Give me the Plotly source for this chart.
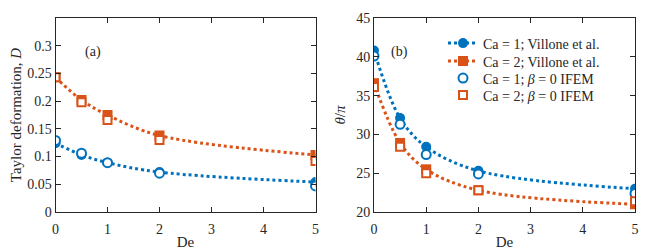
import plotly.graph_objects as go

de = [0, 0.5, 1, 2, 5]

# Panel (a): Taylor deformation D
d_ca1_villone = [0.124, 0.103, 0.089, 0.072, 0.054]
d_ca2_villone = [0.243, 0.202, 0.175, 0.138, 0.103]
d_ca1_ifem = [0.129, 0.106, 0.089, 0.070, 0.047]
d_ca2_ifem = [0.243, 0.198, 0.166, 0.130, 0.092]

# Panel (b): theta / pi
t_ca1_villone = [40.8, 32.1, 28.4, 25.3, 23.0]
t_ca2_villone = [36.6, 28.9, 25.5, 22.8, 21.0]
t_ca1_ifem = [40.1, 31.3, 27.4, 24.9, 22.4]
t_ca2_ifem = [36.1, 28.4, 25.0, 22.8, 21.4]

names = ["Ca = 1; Villone et al.", "Ca = 2; Villone et al.",
         "Ca = 1; <i>β</i> = 0 IFEM", "Ca = 2; <i>β</i> = 0 IFEM"]

BLUE = "#0072BD"
ORANGE = "#D95319"
FONT = "Liberation Serif, Times New Roman, serif"
TXT = "#262626"

# page body has an 8px margin; figure is sized/positioned to compensate
W, H = 642, 242
OFF = 8
PTOP, PBOT = 18, 212  # plot area top/bottom in page pixels

fig = go.Figure()
legs = ["legend", "legend2", "legend3", "legend4"]

def add_panel(xa, ya, v1, v2, i1, i2, show):
    fig.add_trace(go.Scatter(x=de, y=v1, mode="lines+markers", name=names[0],
                             line=dict(color=BLUE, width=3, dash="dot", shape="spline", smoothing=1),
                             marker=dict(symbol="circle", size=10, color=BLUE),
                             xaxis=xa, yaxis=ya, showlegend=show, legend=legs[0]))
    fig.add_trace(go.Scatter(x=de, y=v2, mode="lines+markers", name=names[1],
                             line=dict(color=ORANGE, width=3, dash="dot", shape="spline", smoothing=1),
                             marker=dict(symbol="square", size=10, color=ORANGE),
                             xaxis=xa, yaxis=ya, showlegend=show, legend=legs[1]))
    fig.add_trace(go.Scatter(x=de, y=i1, mode="markers", name=names[2],
                             marker=dict(symbol="circle", size=9, color="white",
                                         line=dict(color=BLUE, width=2)),
                             xaxis=xa, yaxis=ya, showlegend=show, legend=legs[2]))
    fig.add_trace(go.Scatter(x=de, y=i2, mode="markers", name=names[3],
                             marker=dict(symbol="square", size=8, color="white",
                                         line=dict(color=ORANGE, width=2)),
                             xaxis=xa, yaxis=ya, showlegend=show, legend=legs[3]))

add_panel("x", "y", d_ca1_villone, d_ca2_villone, d_ca1_ifem, d_ca2_ifem, False)
add_panel("x2", "y2", t_ca1_villone, t_ca2_villone, t_ca1_ifem, t_ca2_ifem, True)

axcommon = dict(showgrid=False, zeroline=False, showline=True, mirror="allticks",
                linecolor=TXT, linewidth=1, ticks="inside", ticklen=5,
                tickcolor=TXT, automargin=False,
                tickfont=dict(family=FONT, size=14, color=TXT))

def px(x):
    return (x - OFF) / W

def py(y):
    return (PBOT - y) / (PBOT - PTOP)

legend_rows = [43.5, 61.5, 78.5, 95.5]
legend_layout = {}
for lg, row in zip(legs, legend_rows):
    legend_layout[lg] = dict(x=px(443), y=py(row), xanchor="left", yanchor="middle",
                             bgcolor="rgba(0,0,0,0)", font=dict(family=FONT, size=14, color=TXT),
                             itemwidth=30)

fig.update_layout(
    width=W, height=H,
    margin=dict(l=0, r=0, t=PTOP - OFF, b=H - (PBOT - OFF)),
    paper_bgcolor="white", plot_bgcolor="white",
    font=dict(family=FONT, size=14, color=TXT),
    xaxis=dict(domain=[px(55.5), px(315.5)], range=[0, 5], tickvals=[0, 1, 2, 3, 4, 5],
               ticklabelstandoff=4,
               title=dict(text="De", standoff=0, font=dict(family=FONT, size=15)), anchor="y", **axcommon),
    yaxis=dict(domain=[0, 1], range=[0, 0.35], tickvals=[0, 0.05, 0.1, 0.15, 0.2, 0.25, 0.3],
               ticktext=["0", "0.05", "0.1", "0.15", "0.2", "0.25", "0.3"],
               title=dict(text="Taylor deformation, <i>D</i>", standoff=2, font=dict(family=FONT, size=15)),
               anchor="x", **axcommon),
    xaxis2=dict(domain=[px(374), px(635)], range=[0, 5], tickvals=[0, 1, 2, 3, 4, 5],
                ticklabelstandoff=4,
                title=dict(text="De", standoff=0, font=dict(family=FONT, size=15)), anchor="y2", **axcommon),
    yaxis2=dict(domain=[0, 1], range=[20, 45], tickvals=[20, 25, 30, 35, 40, 45],
                title=dict(text="<i>θ</i>/<i>π</i>", standoff=6, font=dict(family=FONT, size=15)),
                anchor="x2", **axcommon),
    annotations=[
        dict(text="(a)", x=px(83), y=py(42), xref="paper", yref="paper", showarrow=False,
             font=dict(family=FONT, size=14, color=TXT)),
        dict(text="(b)", x=px(399), y=py(42), xref="paper", yref="paper", showarrow=False,
             font=dict(family=FONT, size=14, color=TXT)),
    ],
    **legend_layout,
)

fig.write_html("out.html")
